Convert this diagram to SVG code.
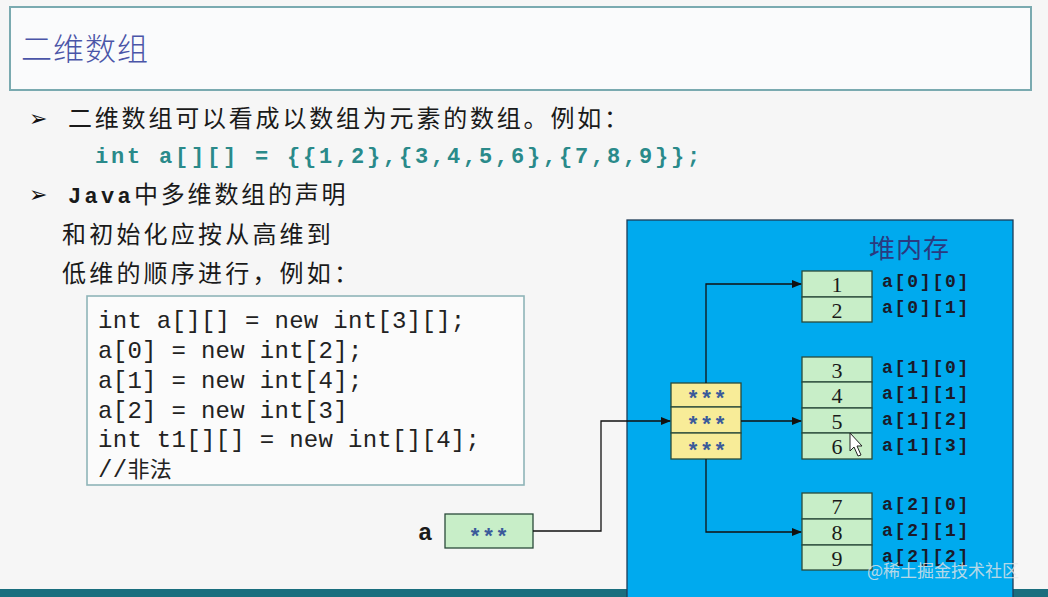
<svg xmlns="http://www.w3.org/2000/svg" width="1048" height="597" viewBox="0 0 1048 597">
<defs>
<marker id="arr" markerWidth="10" markerHeight="8" refX="9" refY="4" orient="auto" markerUnits="userSpaceOnUse">
<path d="M0,0 L10,4 L0,8 Z" fill="#111"/>
</marker>
<style>
.cjk{font-family:"Noto Sans CJK SC",sans-serif;fill:#1a1a1a}
.mono{font-family:"Liberation Mono",monospace}
.cell{fill:#c8eec8;stroke:#2a4a3a;stroke-width:1.3}
.ycell{fill:#f8ec98;stroke:#2a4a3a;stroke-width:1.3}
.num{font-family:"Liberation Serif",serif;font-size:22px;fill:#1a1a1a;text-anchor:middle}
.lbl{font-family:"Liberation Mono",monospace;font-weight:bold;font-size:18px;letter-spacing:1.8px;fill:#1a1a2a}
.star{font-family:"Liberation Sans",sans-serif;font-weight:bold;font-size:22px;letter-spacing:5px;fill:#3a5a9a;text-anchor:middle}
.conn{fill:none;stroke:#111;stroke-width:1.3}
.bul{font-family:"DejaVu Sans",sans-serif;font-weight:bold;font-size:22px;fill:#111}
</style>
</defs>
<rect x="0" y="0" width="1048" height="597" fill="#f6f6f6"/>
<rect x="0" y="589" width="1048" height="8" fill="#1a6e7e"/>

<g id="title">
<rect x="10" y="7" width="1021" height="83" fill="#fafbfc" stroke="#7aaab0" stroke-width="2"/>
<text x="21" y="60" font-family="Noto Sans CJK SC, sans-serif" font-weight="300" font-size="31" letter-spacing="1" fill="#4a55a8">二维数组</text>
</g>

<g id="text">
<text x="29" y="126" class="bul">➢</text>
<text x="68" y="127" class="cjk" font-size="24" letter-spacing="2.8">二维数组可以看成以数组为元素的数组。例如：</text>
<text x="95" y="163" class="mono" font-size="22" letter-spacing="2.8" fill="#2a8a8a" font-weight="bold">int a[][] = {{1,2},{3,4,5,6},{7,8,9}};</text>
<text x="29" y="202" class="bul">➢</text>
<text x="68" y="203" font-size="24"><tspan class="mono" font-weight="bold" font-size="22" letter-spacing="3.3" fill="#1a1a1a">Java</tspan><tspan class="cjk" letter-spacing="2.8">中多维数组的声明</tspan></text>
<text x="62" y="243" class="cjk" font-size="24" letter-spacing="3.2">和初始化应按从高维到</text>
<text x="62" y="282" class="cjk" font-size="24" letter-spacing="3.2">低维的顺序进行，例如：</text>
</g>

<g id="codebox">
<rect x="87" y="296" width="437" height="189" fill="#fbfbfb" stroke="#8fb5b8" stroke-width="1.6"/>
<g class="mono" font-size="24" letter-spacing="0.3" fill="#222">
<text x="98" y="328">int a[][] = new int[3][];</text>
<text x="98" y="358">a[0] = new int[2];</text>
<text x="98" y="388">a[1] = new int[4];</text>
<text x="98" y="418">a[2] = new int[3]</text>
<text x="98" y="447">int t1[][] = new int[][4];</text>
<text x="98" y="477">//<tspan font-family="Noto Sans CJK SC, sans-serif" font-size="22">非法</tspan></text>
</g>
</g>

<g id="heap">
<rect x="627" y="220" width="386" height="390" fill="#00aaee" stroke="#1e3c58" stroke-width="1.3"/>
<text x="869" y="258" font-family="Noto Sans CJK SC, sans-serif" font-size="26" letter-spacing="1" fill="#2a3a80">堆内存</text>
</g>

<g id="var-a">
<text x="418" y="540" class="mono" font-weight="bold" font-size="24" fill="#1a1a1a">a</text>
<rect x="445" y="514" width="88" height="34" class="cell"/>
<text x="491" y="543" class="star">***</text>
</g>

<g id="pointers">
<rect x="671" y="383" width="70" height="24" class="ycell"/>
<rect x="671" y="407" width="70" height="26" class="ycell"/>
<rect x="671" y="433" width="70" height="26" class="ycell"/>
<text x="709" y="405" class="star">***</text>
<text x="709" y="431" class="star">***</text>
<text x="709" y="457" class="star">***</text>
</g>

<g id="row0">
<rect x="802" y="271" width="70" height="26" class="cell"/>
<rect x="802" y="297" width="70" height="25" class="cell"/>
<text x="837" y="292" class="num">1</text>
<text x="837" y="318" class="num">2</text>
<text x="882" y="287" class="lbl">a[0][0]</text>
<text x="882" y="313" class="lbl">a[0][1]</text>
</g>

<g id="row1">
<rect x="802" y="357" width="70" height="25" class="cell"/>
<rect x="802" y="382" width="70" height="26" class="cell"/>
<rect x="802" y="408" width="70" height="25" class="cell"/>
<rect x="802" y="433" width="70" height="26" class="cell"/>
<text x="837" y="378" class="num">3</text>
<text x="837" y="403" class="num">4</text>
<text x="837" y="429" class="num">5</text>
<text x="837" y="454" class="num">6</text>
<text x="882" y="373" class="lbl">a[1][0]</text>
<text x="882" y="399" class="lbl">a[1][1]</text>
<text x="882" y="425" class="lbl">a[1][2]</text>
<text x="882" y="451" class="lbl">a[1][3]</text>
</g>

<g id="row2">
<rect x="802" y="493" width="70" height="26" class="cell"/>
<rect x="802" y="519" width="70" height="26" class="cell"/>
<rect x="802" y="545" width="70" height="25" class="cell"/>
<text x="837" y="514" class="num">7</text>
<text x="837" y="540" class="num">8</text>
<text x="837" y="566" class="num">9</text>
<text x="882" y="510" class="lbl">a[2][0]</text>
<text x="882" y="536" class="lbl">a[2][1]</text>
<text x="882" y="562" class="lbl">a[2][2]</text>
</g>

<g id="connectors">
<path class="conn" d="M533,531 H601 V421 H670" marker-end="url(#arr)"/>
<path class="conn" d="M706,383 V284 H801" marker-end="url(#arr)"/>
<path class="conn" d="M741,421 H801" marker-end="url(#arr)"/>
<path class="conn" d="M706,459 V532 H801" marker-end="url(#arr)"/>
</g>

<path d="M850,433 L850,451 L854,447 L858,456 L861,455 L857,446 L862,446 Z" fill="#fff" stroke="#222" stroke-width="1"/>
<text x="867" y="577" font-family="Noto Sans CJK SC, sans-serif" font-size="17" fill="#e6e6e6" fill-opacity="0.8">@稀土掘金技术社区</text>
</svg>
